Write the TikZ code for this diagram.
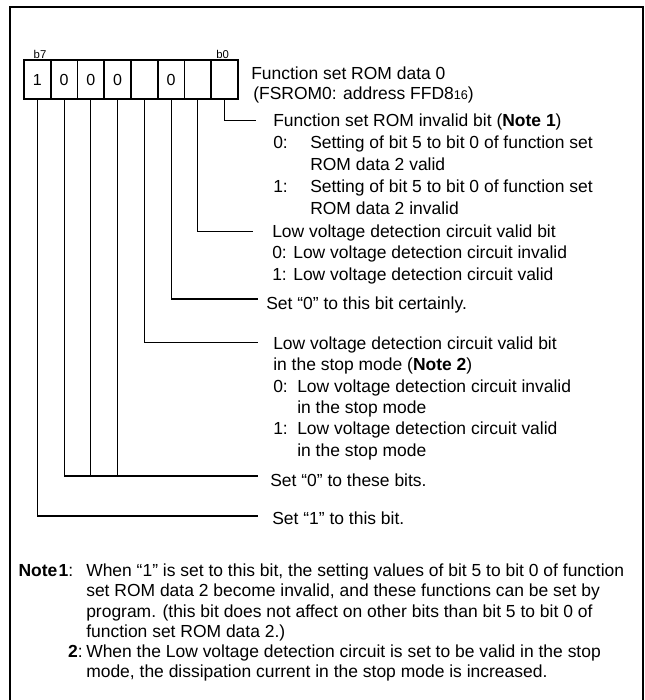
\documentclass[tikz,border=0pt]{standalone}
\usepackage{fontspec}
\setmainfont{Liberation Sans}

\begin{document}
\begin{tikzpicture}[x=0.75pt, y=-0.75pt,
    every node/.style={font=\fontsize{13.1}{16}\selectfont},
    cell/.style={draw, line width=1.3pt, minimum width=20.06pt, minimum height=29.25pt, inner sep=0pt, font=\fontsize{12}{14}\selectfont},
    bitno/.style={anchor=base, inner sep=0pt, font=\fontsize{8.5}{10}\selectfont},
    txt/.style={anchor=north west, align=left, inner sep=0pt},
    notetxt/.style={txt, font=\fontsize{13.1}{15.3}\selectfont},
    lead/.style={line width=0.9pt}]

    % Page and frame (its bottom edge is off the page)
    \useasboundingbox (0,0) rectangle (645,700);
    \draw[line width=1.5pt] (10,712) -- (10,7) -- (643,7) -- (643,712);

    % Register cells b7 ... b0
    \node[cell] (c7) at (37.375,79.5) {1};
    \node[cell] (c6) at (64.125,79.5) {0};
    \node[cell] (c5) at (90.875,79.5) {0};
    \node[cell] (c4) at (117.625,79.5) {0};
    \node[cell] (c3) at (144.375,79.5) {};
    \node[cell] (c2) at (171.125,79.5) {0};
    \node[cell] (c1) at (197.875,79.5) {};
    \node[cell] (c0) at (224.625,79.5) {};

    % Bit numbers
    \node[bitno] (b7) at ([xshift=2pt, yshift=0.8pt]c7.north) {b7};
    \node[bitno] (b0) at ([xshift=-1.5pt, yshift=0.8pt]c0.north) {b0};

    % Register name
    \node[txt, font=\fontsize{13.1}{15}\selectfont] (regname) at (251,65.3) {\strut Function set ROM data 0\\
        \hspace*{1.5pt}(FSROM0: address FFD8{\fontsize{9.5}{10}\selectfont 16})};

    % b0: function set ROM invalid bit
    \node[txt, font=\fontsize{13.1}{16.4}\selectfont] (rominv) at (273,111) {\strut Function set ROM invalid bit (\textbf{Note 1})\\
        \makebox[27.75pt][l]{0:}Setting of bit 5 to bit 0 of function set\\
        \hspace*{27.75pt}ROM data 2 valid\\
        \makebox[27.75pt][l]{1:}Setting of bit 5 to bit 0 of function set\\
        \hspace*{27.75pt}ROM data 2 invalid};
    \coordinate (e0) at (256,120.5);
    \draw[lead] (c0.south) |- (e0);

    % b1: low voltage detection circuit valid bit
    \node[txt] (lvd) at (272,222.4) {\strut Low voltage detection circuit valid bit\\
        0: Low voltage detection circuit invalid\\
        1: Low voltage detection circuit valid};
    \coordinate (e1) at (253,231.5);
    \draw[lead] (c1.south) |- (e1);

    % b2
    \node[txt] (zero2) at (266,294.4) {\strut Set “0” to this bit certainly.};
    \coordinate (e2) at (258,299);
    \draw[lead] (c2.south) |- (e2);

    % b3: valid bit in the stop mode
    \node[txt] (lvdstop) at (273,334.4) {\strut Low voltage detection circuit valid bit\\
        in the stop mode (\textbf{Note 2})\\
        \makebox[18pt][l]{0:}Low voltage detection circuit invalid\\
        \hspace*{18pt}in the stop mode\\
        \makebox[18pt][l]{1:}Low voltage detection circuit valid\\
        \hspace*{18pt}in the stop mode};
    \coordinate (e3) at (258,342.5);
    \draw[lead] (c3.south) |- (e3);

    % b6 to b4
    \node[txt] (zero456) at (270,471.4) {\strut Set “0” to these bits.};
    \coordinate (e456) at (258,476);
    \draw[lead] (c6.south) |- (e456);
    \draw[lead] (c5.south) -- (c5.south |- e456);
    \draw[lead] (c4.south) -- (c4.south |- e456);

    % b7
    \node[txt] (one7) at (272,509.4) {\strut Set “1” to this bit.};
    \coordinate (e7) at (258,516);
    \draw[lead] (c7.south) |- (e7);

    % Notes
    \node[notetxt, anchor=north east] (note1lab) at (73.5,562) {\strut\textbf{Note}\kern1pt\textbf{1}:};
    \node[notetxt] (note1) at (86,562) {\strut When “1” is set to this bit, the setting values of bit 5 to bit 0 of function\\
        set ROM data 2 become invalid, and these functions can be set by\\
        program. (this bit does not affect on other bits than bit 5 to bit 0 of\\
        function set ROM data 2.)};
    \node[notetxt, anchor=north east] (note2lab) at (83,643) {\strut\textbf{2}:};
    \node[notetxt] (note2) at (86,643) {\strut When the Low voltage detection circuit is set to be valid in the stop\\
        mode, the dissipation current in the stop mode is increased.};

\end{tikzpicture}
\end{document}
